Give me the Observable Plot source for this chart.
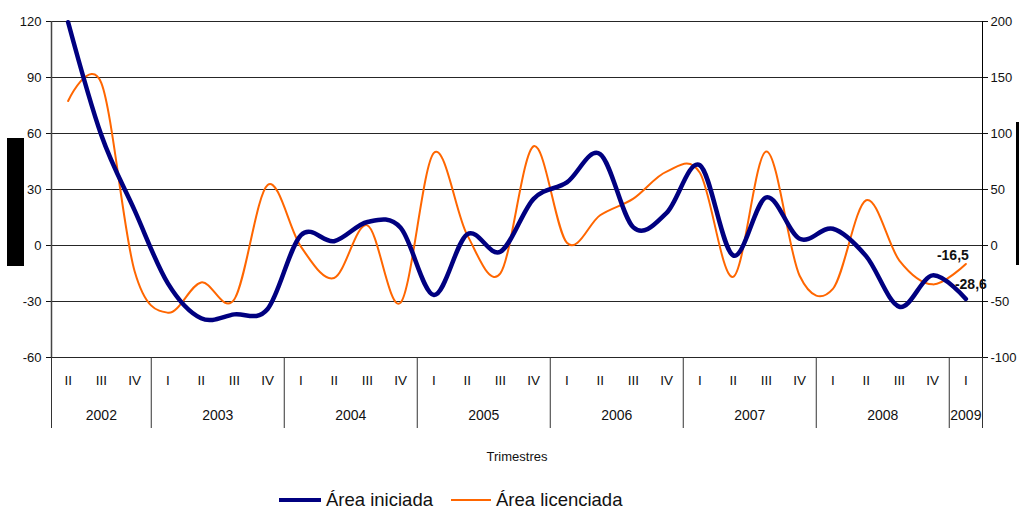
<!DOCTYPE html>
<html>
<head>
<meta charset="utf-8">
<script src="https://cdn.jsdelivr.net/npm/d3@7"></script>
<script src="https://cdn.jsdelivr.net/npm/@observablehq/plot@0.6"></script>
<style>
  html, body { margin: 0; padding: 0; background: #fff; }
  body { width: 1019px; height: 511px; position: relative; overflow: hidden; font-family: "Liberation Sans", Arial, sans-serif; }
  #chart { position: absolute; left: 0; top: 0; }
  .blk { position: absolute; background: #000; }
  #legend { position: absolute; left: 279px; top: 488px; height: 24px; display: flex; align-items: center; font-size: 18.5px; color: #111; }
  .sw { display: inline-block; height: 4px; margin-right: 5px; }
</style>
</head>
<body>
<div id="chart"></div>
<div class="blk" style="left:7px;top:138px;width:17px;height:128px"></div>
<div class="blk" style="left:1016px;top:122px;width:3px;height:143px"></div>
<div id="legend"></div>
<script>
// ---- data ----
const years = ["2002", "2003", "2004", "2005", "2006", "2007", "2008", "2009"];
const quartersByYear = [
  ["II", "III", "IV"],
  ["I", "II", "III", "IV"],
  ["I", "II", "III", "IV"],
  ["I", "II", "III", "IV"],
  ["I", "II", "III", "IV"],
  ["I", "II", "III", "IV"],
  ["I", "II", "III", "IV"],
  ["I"]
];
// Área iniciada (left axis, %)
const areaIniciada = [
  119.6, 59, 18.8, -20.3, -39, -36.9, -34, 5.5, 2.3, 12.6,
  9.5, -26.5, 6, -3.3, 25, 33.8, 49, 9.7, 17.5, 43,
  -5.3, 25.8, 3.6, 9, -5.7, -32.8, -16, -28.6
];
// Área licenciada (right axis, %)
const areaLicenciada = [
  129, 145, -23, -60, -33, -48, 54, -1, -29, 18,
  -51, 82.7, 9.5, -24.8, 88.6, 2.4, 27, 41.9, 66, 65,
  -28, 84, -27, -38.7, 40.4, -13.4, -34.7, -16.5
];
const leftTicks = [-60, -30, 0, 30, 60, 90, 120];
const rightTicks = [-100, -50, 0, 50, 100, 150, 200];
const seriesNames = ["Área iniciada", "Área licenciada"];
const seriesColors = ["#000080", "#FF6600"];
const xTitle = "Trimestres";

// ---- derived tables ----
const ratio = 120 / 200; // right -> left units
const quarters = [];
const yearSpans = [];
years.forEach((y, yi) => {
  const start = quarters.length;
  quartersByYear[yi].forEach(q => quarters.push({ year: y, q, i: quarters.length }));
  yearSpans.push({ year: y, start, end: quarters.length });
});
const nQ = quarters.length;
const bounds = [0, ...yearSpans.map(s => s.end)];
const blue = areaIniciada.map((v, i) => ({ x: i + 0.5, v }));
const orange = areaLicenciada.map((v, i) => ({ x: i + 0.5, v: v * ratio, raw: v }));
const fmt = v => String(v).replace(".", ",");

const W = 1019, H = 480, mt = 21, mb = 123, ml = 51, mr = 37;
const pxPerUnit = (H - mt - mb) / (120 - (-60));
const yAxisBottom = -60 - 71 / pxPerUnit;

const chart = Plot.plot({
  width: W, height: H,
  marginTop: mt, marginBottom: mb, marginLeft: ml, marginRight: mr,
  x: { domain: [0, nQ], axis: null },
  y: { domain: [-60, 120], axis: null },
  style: { fontFamily: "'Liberation Sans', Arial, sans-serif", fontSize: "13px", color: "#111", background: "#fff" },
  marks: [
    Plot.ruleY(leftTicks, { stroke: "#000", strokeWidth: 1, strokeOpacity: 0.85 }),
    Plot.axisY({ anchor: "left", ticks: leftTicks, tickSize: 5, tickPadding: 5, label: null, fontSize: 13, tickFormat: d => d }),
    Plot.axisY({ anchor: "right", ticks: rightTicks.map(v => v * ratio), tickSize: 5, tickPadding: 3, label: null, fontSize: 13, tickFormat: d => Math.round(d / ratio) }),
    Plot.ruleX([0], { y1: -60, y2: 120, stroke: "#444", strokeWidth: 1.5 }),
    Plot.ruleX([nQ], { y1: -60, y2: 120, stroke: "#000", strokeWidth: 1 }),
    Plot.ruleX(bounds, { y1: -60, y2: yAxisBottom, stroke: "#333", strokeWidth: 1 }),
    Plot.text(quarters, { x: d => d.i + 0.5, y: -60, dy: 23, text: "q", fontSize: 13.5, fill: "#111" }),
    Plot.text(yearSpans, { x: d => (d.start + d.end) / 2, y: -60, dy: 58, text: "year", fontSize: 14, fill: "#111" }),
    Plot.text([xTitle], { frameAnchor: "bottom", dy: 103, text: d => d, fontSize: 13, fill: "#111" }),
    Plot.line(orange, { x: "x", y: "v", stroke: seriesColors[1], strokeWidth: 2, curve: "cardinal", tension: 0 }),
    Plot.line(blue, { x: "x", y: "v", stroke: seriesColors[0], strokeWidth: 4.5, curve: "cardinal", tension: 0 }),
    Plot.text([orange[orange.length - 1]], { x: "x", y: "v", text: d => fmt(d.raw), dx: -13, dy: -8, fontWeight: "bold", fontSize: 14, fill: "#111", letterSpacing: "1px" }),
    Plot.text([blue[blue.length - 1]], { x: "x", y: "v", text: d => fmt(d.v), dx: 5, dy: -14, fontWeight: "bold", fontSize: 14, fill: "#111", letterSpacing: "1px" })
  ]
});
document.getElementById("chart").appendChild(chart);

const legend = document.getElementById("legend");
seriesNames.forEach((name, i) => {
  const sw = document.createElement("span");
  sw.className = "sw";
  sw.style.width = (i === 0 ? 42 : 40) + "px";
  sw.style.background = seriesColors[i];
  sw.style.height = (i === 0 ? 4.5 : 2.5) + "px";
  const tx = document.createElement("span");
  tx.textContent = name;
  tx.style.marginRight = i === 0 ? "18px" : "0";
  legend.appendChild(sw);
  legend.appendChild(tx);
});
</script>
</body>
</html>
